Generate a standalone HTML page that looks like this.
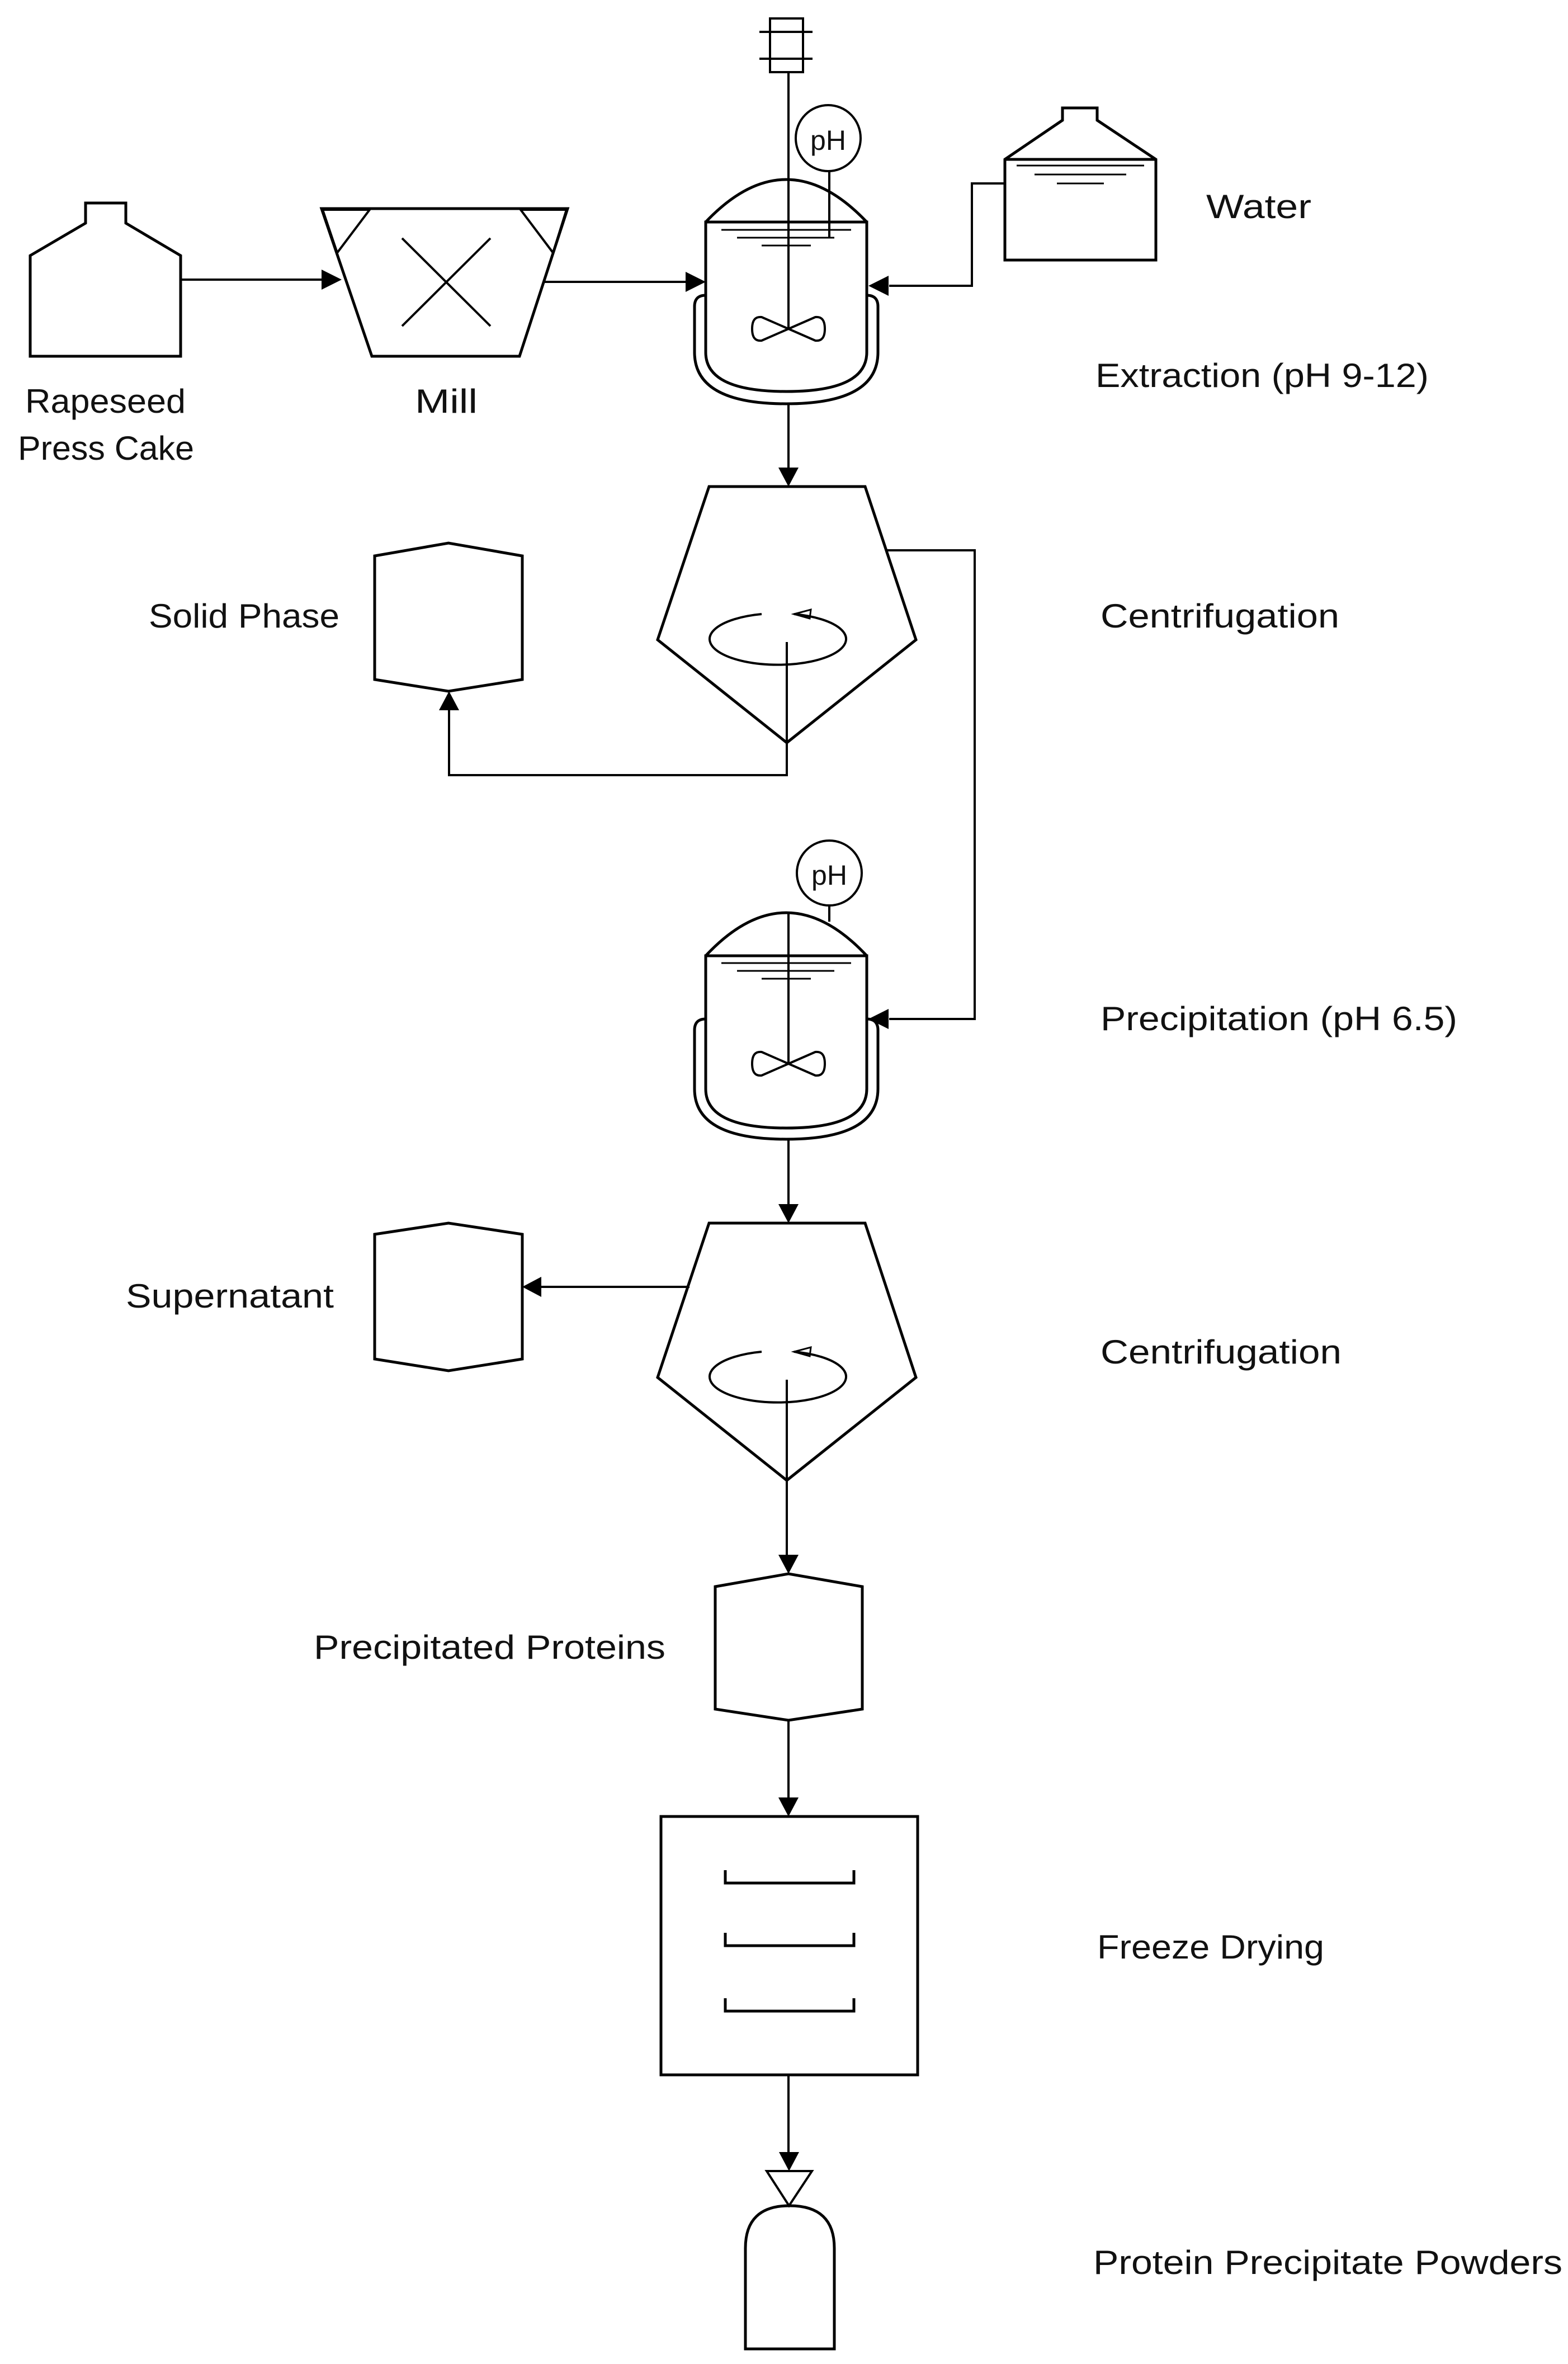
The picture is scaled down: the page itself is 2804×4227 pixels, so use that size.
<!DOCTYPE html>
<html><head><meta charset="utf-8"><style>html,body{margin:0;padding:0;background:#fff}svg{display:block}</style></head><body>
<svg width="2804" height="4227" viewBox="0 0 2804 4227" xmlns="http://www.w3.org/2000/svg">
<g fill="none" stroke="#000" stroke-width="5" stroke-linejoin="miter">
<!-- Rapeseed tank -->
<path d="M153 399 L153 363 L225 363 L225 399 L323 457 L323 637 L54 637 L54 457 Z"/>
<!-- Mill -->
<path d="M575 373 L1015 373 L929 637 L665 637 Z"/>
<path d="M577 375 L661 375 L603 452 Z" stroke-width="4"/>
<path d="M931 375 L1013 375 L989 452 Z" stroke-width="4"/>
<path d="M719 426 L877 583 M877 426 L719 583" stroke-width="4"/>
<!-- Reactor 1 -->
<path d="M1377 33 h59 v96 h-59 Z" stroke-width="4"/>
<path d="M1358 57 h95 M1358 105 h95" stroke-width="4"/>
<line x1="1410" y1="129" x2="1410" y2="588" stroke-width="4"/>
<ellipse cx="1481" cy="247" rx="58" ry="59" stroke-width="4"/>
<line x1="1483" y1="306" x2="1483" y2="426" stroke-width="4"/>
<path d="M1262 397 Q1406 245 1550 397" />
<path d="M1262 397 L1262 630 Q1262 700 1406 700 Q1550 700 1550 630 L1550 397 Z"/>
<line x1="1262" y1="397" x2="1550" y2="397" stroke-width="4"/>
<path d="M1290 411 h232 M1318 425 h174 M1362 439 h88" stroke-width="3"/>
<path d="M1262 528 Q1242 528 1242 548 L1242 630 Q1242 722 1406 722 Q1570 722 1570 630 L1570 548 Q1570 528 1550 528"/>
<path d="M1410 588 L1362 567 Q1345 565 1345 588 Q1345 611 1362 609 Z M1410 588 L1458 567 Q1475 565 1475 588 Q1475 611 1458 609 Z" stroke-width="4"/>
<!-- Water tank -->
<path d="M1900 215 L1900 193 L1962 193 L1962 215 L2067 285 L2067 465 L1797 465 L1797 285 Z"/>
<line x1="1797" y1="285" x2="2067" y2="285"/>
<path d="M1818 296 h228 M1850 312 h164 M1890 328 h84" stroke-width="3"/>
<!-- pipes -->
<path d="M323 500 H595" stroke-width="4"/>
<path d="M974 504 H1245" stroke-width="4"/>
<path d="M1797 328 H1738 V511 H1590" stroke-width="4"/>
<path d="M1410 722 V840" stroke-width="4"/>
<!-- Centrifuge 1 -->
<path d="M1268 870 L1547 870 L1638 1144 L1407 1328 L1176 1144 Z"/>
<path d="M1362 1098 A122 46 0 1 0 1420 1098" stroke-width="4"/>
<path d="M1420 1098 L1450 1090 L1448 1106 Z" stroke-width="3"/>
<path d="M1407 1148 V1386 H803 V1262" stroke-width="4"/>
<path d="M1585 984 H1743 V1822 H1590" stroke-width="4"/>
<!-- Solid phase -->
<path d="M670 994 L802 971 L934 994 L934 1215 L802 1236 L670 1215 Z"/>
<!-- Reactor 2 -->
<ellipse cx="1483" cy="1561" rx="58" ry="58" stroke-width="4"/>
<line x1="1483" y1="1619" x2="1483" y2="1648" stroke-width="4"/>
<line x1="1410" y1="1631" x2="1410" y2="1902" stroke-width="4"/>
<path d="M1262 1709 Q1406 1555 1550 1709"/>
<path d="M1262 1709 L1262 1947 Q1262 2017 1406 2017 Q1550 2017 1550 1947 L1550 1709 Z"/>
<path d="M1290 1722 h232 M1318 1736 h174 M1362 1750 h88" stroke-width="3"/>
<path d="M1262 1822 Q1242 1822 1242 1842 L1242 1947 Q1242 2037 1406 2037 Q1570 2037 1570 1947 L1570 1842 Q1570 1822 1550 1822"/>
<path d="M1410 1902 L1362 1881 Q1345 1879 1345 1902 Q1345 1925 1362 1923 Z M1410 1902 L1458 1881 Q1475 1879 1475 1902 Q1475 1925 1458 1923 Z" stroke-width="4"/>
<path d="M1410 2037 V2155" stroke-width="4"/>
<!-- Centrifuge 2 -->
<path d="M1268 2187 L1547 2187 L1638 2463 L1407 2647 L1176 2463 Z"/>
<path d="M1362 2417 A122 46 0 1 0 1420 2417" stroke-width="4"/>
<path d="M1420 2417 L1450 2409 L1448 2425 Z" stroke-width="3"/>
<path d="M1233 2301 H966" stroke-width="4"/>
<path d="M1407 2467 V2780" stroke-width="4"/>
<!-- Supernatant -->
<path d="M670 2207 L802 2187 L934 2207 L934 2430 L802 2451 L670 2430 Z"/>
<!-- Precipitated proteins -->
<path d="M1279 2837 L1410 2814 L1542 2837 L1542 3056 L1410 3076 L1279 3056 Z"/>
<path d="M1410 3076 V3215" stroke-width="4"/>
<!-- Freeze dryer -->
<rect x="1182" y="3248" width="459" height="462"/>
<path d="M1297 3344 V3367 H1527 V3344 M1297 3456 V3479 H1527 V3456 M1297 3573 V3596 H1527 V3573"/>
<path d="M1410 3710 V3850" stroke-width="4"/>
<!-- valve + bottle -->
<path d="M1371 3882 H1452 L1411 3944 Z" stroke-width="4"/>
<path d="M1333 4200 L1333 4020 Q1333 3944 1412 3944 Q1492 3944 1492 4020 L1492 4200 Z"/>
</g>
<!-- arrowheads -->
<g fill="#000">
<path d="M611 500 L575 482 L575 518 Z"/>
<path d="M1262 504 L1226 486 L1226 522 Z"/>
<path d="M1553 511 L1589 493 L1589 529 Z"/>
<path d="M1410 870 L1392 836 L1428 836 Z"/>
<path d="M803 1236 L785 1270 L821 1270 Z"/>
<path d="M1553 1822 L1589 1804 L1589 1840 Z"/>
<path d="M1410 2187 L1392 2153 L1428 2153 Z"/>
<path d="M934 2301 L968 2283 L968 2319 Z"/>
<path d="M1410 2814 L1392 2780 L1428 2780 Z"/>
<path d="M1410 3248 L1392 3214 L1428 3214 Z"/>
<path d="M1411 3882 L1393 3848 L1429 3848 Z"/>
</g>
<g font-family="Liberation Sans, sans-serif" font-size="60" fill="#111">
<text x="1481" y="268" font-size="50" text-anchor="middle">pH</text>
<text x="1483" y="1582" font-size="50" text-anchor="middle">pH</text>
<text x="45" y="738" textLength="287" lengthAdjust="spacingAndGlyphs">Rapeseed</text>
<text x="32" y="822" textLength="315" lengthAdjust="spacingAndGlyphs">Press Cake</text>
<text x="742" y="738" textLength="112" lengthAdjust="spacingAndGlyphs">Mill</text>
<text x="2157" y="390" textLength="188" lengthAdjust="spacingAndGlyphs">Water</text>
<text x="1959" y="692" textLength="596" lengthAdjust="spacingAndGlyphs">Extraction (pH 9-12)</text>
<text x="266" y="1122" textLength="341" lengthAdjust="spacingAndGlyphs">Solid Phase</text>
<text x="1968" y="1122" textLength="427" lengthAdjust="spacingAndGlyphs">Centrifugation</text>
<text x="1968" y="1842" textLength="638" lengthAdjust="spacingAndGlyphs">Precipitation (pH 6.5)</text>
<text x="225" y="2338" textLength="372" lengthAdjust="spacingAndGlyphs">Supernatant</text>
<text x="1968" y="2438" textLength="431" lengthAdjust="spacingAndGlyphs">Centrifugation</text>
<text x="561" y="2966" textLength="629" lengthAdjust="spacingAndGlyphs">Precipitated Proteins</text>
<text x="1962" y="3502" textLength="406" lengthAdjust="spacingAndGlyphs">Freeze Drying</text>
<text x="1955" y="4066" textLength="839" lengthAdjust="spacingAndGlyphs">Protein Precipitate Powders</text>
</g>
</svg>
</body></html>
